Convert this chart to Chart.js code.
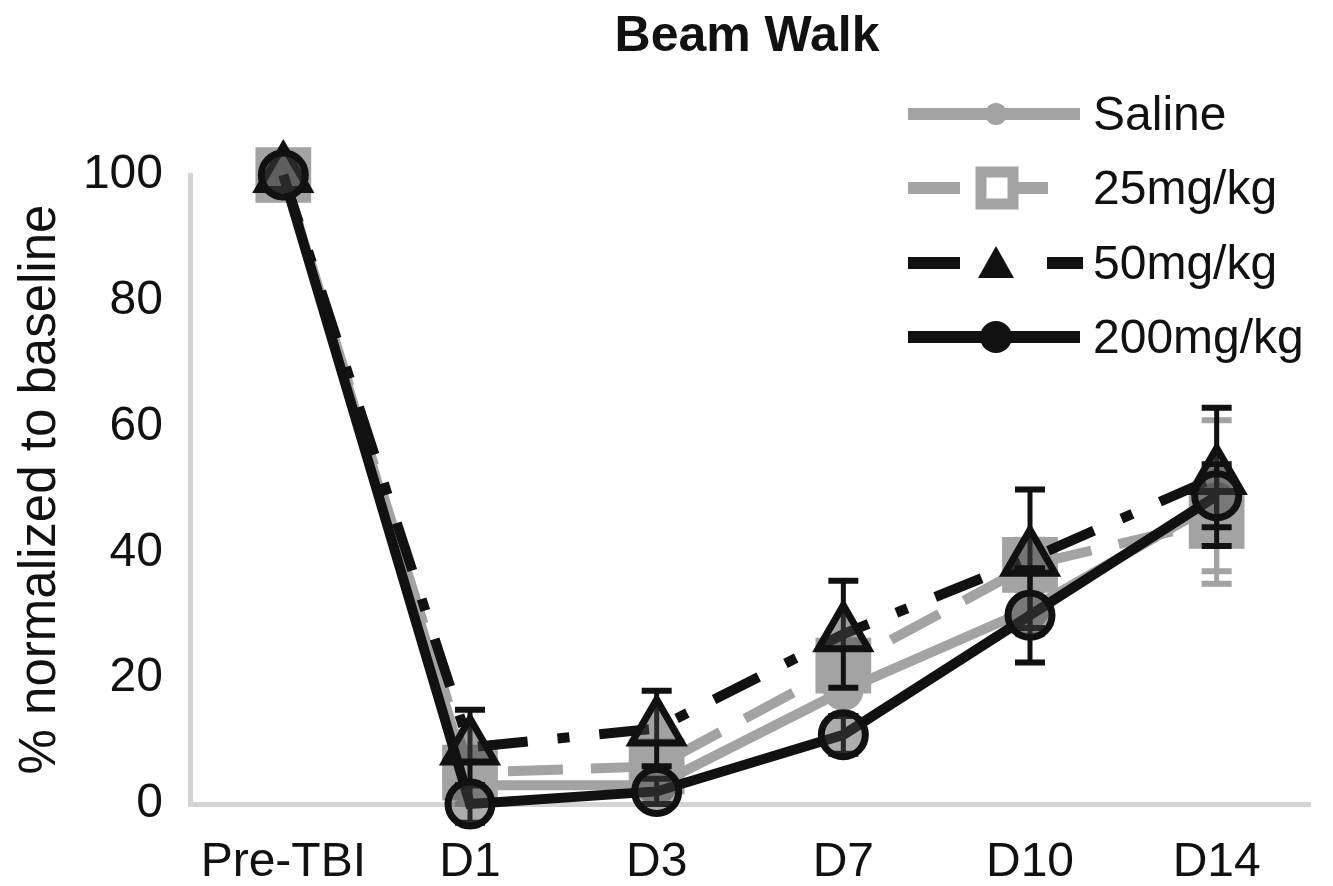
<!DOCTYPE html>
<html>
<head>
<meta charset="utf-8">
<script src="https://cdn.jsdelivr.net/npm/chart.js@4.4.0/dist/chart.umd.min.js"></script>
<style>
  html, body { margin: 0; padding: 0; background: #fff; }
  #wrap { position: relative; width: 1333px; height: 886px; overflow: hidden; }
  #chart { position: absolute; left: 0; top: 0; }
  #title { position: absolute; left: 547px; top: 9px; width: 400px; text-align: center;
           font: bold 50px "Liberation Sans", Arial, sans-serif; line-height: 50px; color: #111; }
  .leg { position: absolute; left: 908px; height: 50px; }
  .leg svg { position: absolute; left: 0; top: 0; }
  .leg span { position: absolute; left: 185px; top: 1px; white-space: nowrap;
              font: 48px "Liberation Sans", Arial, sans-serif; line-height: 48px; color: #111; }
</style>
</head>
<body>
<div id="wrap">
  <canvas id="chart" width="1333" height="886"></canvas>
  <div id="title">Beam Walk</div>
  <div id="legend"></div>
</div>
<script>
// ---- data ----
const categories = ['Pre-TBI', 'D1', 'D3', 'D7', 'D10', 'D14'];
const seriesNames = ['Saline', '25mg/kg', '50mg/kg', '200mg/kg'];
const saline = [100, 3, 3, 18, 31, 48];
const mg25   = [100, 5, 6, 22, 38, 45];
const mg50   = [100, 9, 12, 27, 39, 52];
const mg200  = [100, 0, 2, 11, 30, 49];
const salineErr = [0, 3, 3, 4, 4, 13];
const mg25Err   = [0, 3, 3, 4, 4, 8];
const mg50Err   = [0, 6, 6, 8.5, 11, 11];
const mg200Err  = [0, 3, 2, 3, 7.5, 5];
const yTicks = [0, 20, 40, 60, 80, 100];

const GRAY = '#a3a3a3';
const BLACK = '#111111';
const FONT = '"Liberation Sans", Arial, sans-serif';
const errorSets = [salineErr, mg25Err, mg50Err, mg200Err];
const errorColors = [GRAY, GRAY, BLACK, BLACK];

const errorBarPlugin = {
  id: 'errorBars',
  beforeDatasetDraw(chart, args) {
    const errs = errorSets[args.index];
    if (!errs) return;
    const ys = chart.scales.y;
    const ctx = chart.ctx;
    const vals = chart.data.datasets[args.index].data;
    ctx.save();
    ctx.strokeStyle = errorColors[args.index];
    ctx.lineCap = 'butt';
    args.meta.data.forEach((pt, i) => {
      const e = errs[i];
      if (!e) return;
      const x = pt.x;
      const yTop = ys.getPixelForValue(vals[i] + e);
      const yBot = ys.getPixelForValue(vals[i] - e);
      ctx.lineWidth = 5;
      ctx.beginPath(); ctx.moveTo(x, yTop); ctx.lineTo(x, yBot); ctx.stroke();
      ctx.lineWidth = 6;
      ctx.beginPath();
      ctx.moveTo(x - 15, yTop); ctx.lineTo(x + 15, yTop);
      ctx.moveTo(x - 15, yBot); ctx.lineTo(x + 15, yBot);
      ctx.stroke();
    });
    ctx.restore();
  }
};

new Chart(document.getElementById('chart'), {
  type: 'line',
  data: {
    labels: categories,
    datasets: [
      { label: seriesNames[0], data: saline, order: 4,
        borderColor: GRAY, borderWidth: 10, tension: 0, clip: false,
        pointStyle: 'circle', pointRadius: 20, pointBackgroundColor: GRAY,
        pointBorderColor: GRAY, pointBorderWidth: 0 },
      { label: seriesNames[1], data: mg25, order: 3,
        borderColor: GRAY, borderWidth: 10, borderDash: [55, 28], tension: 0, clip: false,
        pointStyle: 'rect', pointRadius: 38, pointBackgroundColor: GRAY,
        pointBorderColor: GRAY, pointBorderWidth: 2 },
      { label: seriesNames[2], data: mg50, order: 2,
        borderColor: BLACK, borderWidth: 10, borderDash: [50, 30, 12, 30], tension: 0, clip: false,
        pointStyle: 'triangle', pointRadius: 29, pointBackgroundColor: 'rgba(70,70,70,0.5)',
        pointBorderColor: BLACK, pointBorderWidth: 7 },
      { label: seriesNames[3], data: mg200, order: 1,
        borderColor: BLACK, borderWidth: 10, tension: 0, clip: false,
        pointStyle: 'circle', pointRadius: 22, pointBackgroundColor: 'rgba(70,70,70,0.45)',
        pointBorderColor: BLACK, pointBorderWidth: 7 }
    ]
  },
  options: {
    responsive: false,
    animation: false,
    events: [],
    layout: { autoPadding: false, padding: { top: 175, right: 23, left: 0, bottom: 0 } },
    plugins: { legend: { display: false }, tooltip: { enabled: false }, title: { display: false } },
    scales: {
      x: {
        type: 'category',
        offset: true,
        grid: { display: false, drawTicks: false },
        border: { display: true, color: '#d4d4d4', width: 5 },
        ticks: { color: '#111', padding: 30, font: { size: 48, family: FONT } },
        afterFit(scale) { scale.height = 82; }
      },
      y: {
        min: 0, max: 100,
        afterBuildTicks(scale) { scale.ticks = yTicks.map(v => ({ value: v })); },
        grid: { display: false, drawTicks: false },
        border: { display: true, color: '#d4d4d4', width: 5 },
        ticks: { color: '#111', padding: 27, font: { size: 48, family: FONT } },
        title: { display: true, text: '% normalized to baseline', color: '#111',
                 font: { size: 51, family: FONT }, padding: { top: 10, bottom: 0 } },
        afterFit(scale) { scale.width = 190; }
      }
    }
  },
  plugins: [errorBarPlugin]
});

// ---- legend (HTML) ----
const legendRows = [
  { y: 114, svg: `<line x1="0" y1="25" x2="172" y2="25" stroke="${GRAY}" stroke-width="12"/>
                  <circle cx="88" cy="25" r="11" fill="${GRAY}"/>` },
  { y: 188, svg: `<line x1="0" y1="25" x2="52" y2="25" stroke="${GRAY}" stroke-width="12"/>
                  <line x1="104" y1="25" x2="140" y2="25" stroke="${GRAY}" stroke-width="12"/>
                  <rect x="73" y="9" width="32" height="32" fill="#fff" stroke="${GRAY}" stroke-width="11"/>` },
  { y: 263, svg: `<line x1="0" y1="25" x2="52" y2="25" stroke="${BLACK}" stroke-width="12"/>
                  <line x1="139" y1="25" x2="175" y2="25" stroke="${BLACK}" stroke-width="12"/>
                  <polygon points="88,8 106,40 70,40" fill="${BLACK}"/>` },
  { y: 337, svg: `<line x1="0" y1="25" x2="172" y2="25" stroke="${BLACK}" stroke-width="12"/>
                  <circle cx="88" cy="25" r="16" fill="${BLACK}"/>` }
];
const legendEl = document.getElementById('legend');
legendRows.forEach((row, i) => {
  const d = document.createElement('div');
  d.className = 'leg';
  d.style.top = (row.y - 25) + 'px';
  d.innerHTML = `<svg width="180" height="50">${row.svg}</svg><span>${seriesNames[i]}</span>`;
  legendEl.appendChild(d);
});
</script>
</body>
</html>
